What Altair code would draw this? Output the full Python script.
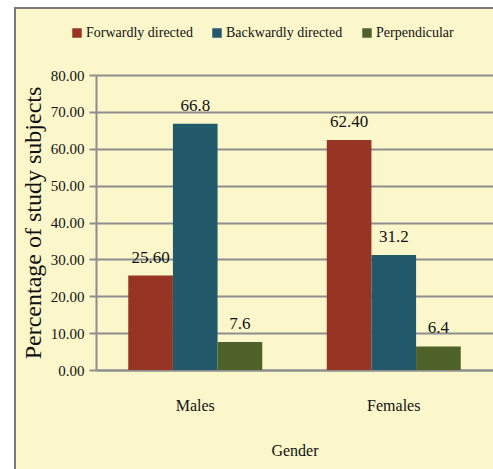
import altair as alt
import pandas as pd

genders = ["Males", "Males", "Males", "Females", "Females", "Females"]
series = ["Forwardly directed", "Backwardly directed", "Perpendicular"] * 2
values = [25.6, 66.8, 7.6, 62.4, 31.2, 6.4]
value_labels = ["25.60", "66.8", "7.6", "62.40", "31.2", "6.4"]
series_order = ["Forwardly directed", "Backwardly directed", "Perpendicular"]
gender_order = ["Males", "Females"]
colors = ["#983424", "#225A6B", "#4F6229"]
y_ticks = [0, 10, 20, 30, 40, 50, 60, 70, 80]

df = pd.DataFrame({"Gender": genders, "Series": series, "Value": values, "Label": value_labels})

FONT = "Liberation Serif, Times New Roman, serif"
CREAM = "#FBF7CB"
GRID = "#8E8E8E"
INK = "#111111"

x_scale = alt.Scale(domain=gender_order, paddingInner=0.325, paddingOuter=0.1625)
y_scale = alt.Scale(domain=[0, 80], nice=False)

x = alt.X("Gender:N", sort=gender_order, title="Gender", scale=x_scale,
          axis=alt.Axis(labelAngle=0, ticks=False, labelPadding=27, titlePadding=29,
                        labelFont=FONT, labelFontSize=16, labelColor=INK,
                        titleFont=FONT, titleFontSize=16, titleFontWeight="normal", titleColor=INK,
                        domainColor=GRID, domainWidth=2, grid=False))
y = alt.Y("Value:Q", title="Percentage of study subjects", scale=y_scale,
          axis=alt.Axis(values=y_ticks, format=".2f", tickSize=7, tickColor=GRID, tickWidth=2,
                        labelPadding=5, labelFont=FONT, labelFontSize=15, labelColor=INK,
                        labelOverlap=False,
                        grid=True, gridColor=GRID, gridWidth=2, domainColor=GRID, domainWidth=2,
                        titleFont=FONT, titleFontSize=24, titleFontWeight="normal", titleColor=INK,
                        titlePadding=5))

bars = alt.Chart(df).mark_bar().encode(
    x=x, y=y,
    xOffset=alt.XOffset("Series:N", sort=series_order),
    color=alt.Color("Series:N", sort=series_order,
                    scale=alt.Scale(domain=series_order, range=colors),
                    legend=alt.Legend(title=None, orient="none", direction="horizontal",
                                      legendX=-26, legendY=-49, symbolType="square",
                                      symbolSize=90, symbolStrokeWidth=0, symbolOpacity=1,
                                      labelFont=FONT, labelFontSize=14, labelColor=INK,
                                      labelOffset=2, columnPadding=17)),
)

labels = alt.Chart(df).mark_text(baseline="bottom", dy=-9, font=FONT, fontSize=17, color=INK).encode(
    x=x,
    xOffset=alt.XOffset("Series:N", sort=series_order),
    y=y,
    text="Label:N",
)

frame_data = alt.Data(values=[{}])
white_top = alt.Chart(frame_data).mark_rect(fill="white").encode(
    x=alt.value(-96), x2=alt.value(420), y=alt.value(-75), y2=alt.value(-67))
white_left = alt.Chart(frame_data).mark_rect(fill="white").encode(
    x=alt.value(-96), x2=alt.value(-81), y=alt.value(-75), y2=alt.value(420))
border = alt.Chart(frame_data).mark_rect(fill=None, stroke="#7a7a7a", strokeWidth=2).encode(
    x=alt.value(-81), x2=alt.value(420), y=alt.value(-67), y2=alt.value(420))

chart = alt.layer(bars, labels, white_top, white_left, border).properties(
    width=397, height=295,
    autosize=alt.AutoSizeParams(type="none"),
    padding={"left": 96, "top": 75, "right": 0, "bottom": 99},
    background=CREAM,
).configure_view(stroke=None)

chart.save("out.html", embed_options={"renderer": "svg", "actions": False})
